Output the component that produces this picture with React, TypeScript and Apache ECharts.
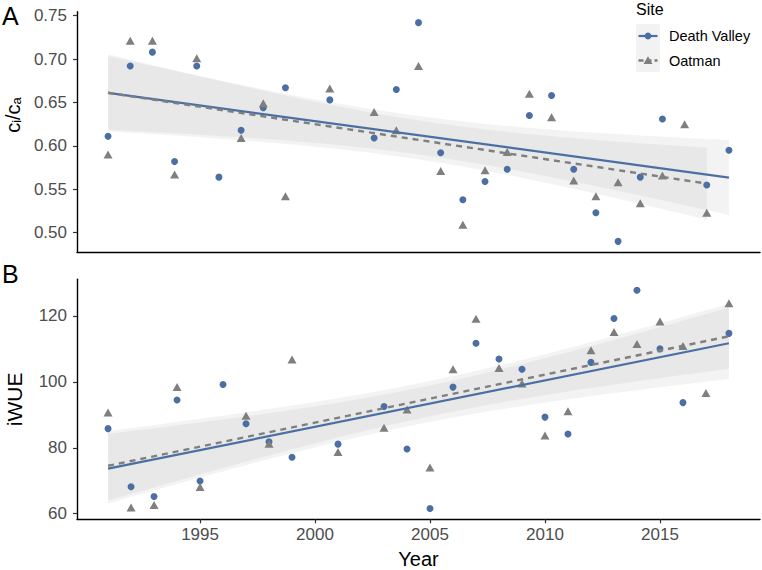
import { useEffect, useRef } from "react";
import * as echarts from "echarts";

// ---- Data ----
// Panel A: ci/ca
const yearsDvA = [1991, 1992, 1993, 1994, 1995, 1996, 1997, 1998, 1999, 2001, 2003, 2004, 2005, 2006, 2007, 2008, 2009, 2010, 2011, 2012, 2013, 2014, 2015, 2016, 2018, 2019];
const ciCaDv = [0.611, 0.692, 0.708, 0.582, 0.692, 0.564, 0.618, 0.644, 0.667, 0.653, 0.609, 0.665, 0.742, 0.592, 0.538, 0.559, 0.573, 0.635, 0.658, 0.573, 0.523, 0.49, 0.564, 0.631, 0.555, 0.595];
const yearsOatA = [1991, 1992, 1993, 1994, 1995, 1997, 1998, 1999, 2001, 2003, 2004, 2005, 2006, 2007, 2008, 2009, 2010, 2011, 2012, 2013, 2014, 2015, 2016, 2017, 2018];
const ciCaOat = [0.59, 0.721, 0.721, 0.567, 0.701, 0.609, 0.649, 0.542, 0.666, 0.639, 0.618, 0.692, 0.571, 0.509, 0.572, 0.593, 0.66, 0.633, 0.56, 0.542, 0.558, 0.534, 0.566, 0.625, 0.523];

// Panel B: iWUE
const yearsDvB = [1991, 1992, 1993, 1994, 1995, 1996, 1997, 1998, 1999, 2001, 2003, 2004, 2005, 2006, 2007, 2008, 2009, 2010, 2011, 2012, 2013, 2014, 2015, 2016, 2018];
const iwueDv = [85.8, 68.2, 65.2, 94.5, 69.9, 99.2, 87.3, 81.8, 77.1, 81.1, 92.5, 79.6, 61.6, 98.4, 111.7, 106.9, 103.8, 89.3, 84.2, 105.9, 119.2, 127.8, 110.0, 93.7, 114.7];
const yearsOatB = [1991, 1992, 1993, 1994, 1995, 1997, 1998, 1999, 2001, 2003, 2004, 2005, 2006, 2007, 2008, 2009, 2010, 2011, 2012, 2013, 2014, 2015, 2016, 2017, 2018];
const iwueOat = [90.7, 61.9, 62.6, 98.4, 68.1, 89.7, 81.2, 106.8, 78.7, 86.1, 91.6, 74.0, 103.8, 119.1, 104.2, 99.5, 83.7, 91.1, 109.6, 115.1, 111.5, 118.3, 110.9, 96.6, 123.8];

const sites = ["Death Valley", "Oatman"];
const yTicksA = [0.5, 0.55, 0.6, 0.65, 0.7, 0.75];
const yTicksB = [60, 80, 100, 120];
const xTicks = [1995, 2000, 2005, 2010, 2015];

// ---- Styling ----
const BLUE = "#4b6fa3";
const GREY = "#7f7f7f";
const BAND = "rgba(153,153,153,0.12)";
const FONT = "Liberation Sans, Arial, Helvetica, sans-serif";

function t975(df: number) {
  const z = 1.959964;
  return (
    z +
    (z ** 3 + z) / (4 * df) +
    (5 * z ** 5 + 16 * z ** 3 + 3 * z) / (96 * df * df) +
    (3 * z ** 7 + 19 * z ** 5 + 17 * z ** 3 - 15 * z) / (384 * df ** 3)
  );
}

function fit(xs: number[], ys: number[], steps = 80) {
  const n = xs.length;
  const mx = xs.reduce((a, b) => a + b, 0) / n;
  const my = ys.reduce((a, b) => a + b, 0) / n;
  let sxx = 0, sxy = 0;
  for (let i = 0; i < n; i++) {
    sxx += (xs[i] - mx) ** 2;
    sxy += (xs[i] - mx) * (ys[i] - my);
  }
  const b = sxy / sxx;
  const a = my - b * mx;
  let sse = 0;
  for (let i = 0; i < n; i++) sse += (ys[i] - (a + b * xs[i])) ** 2;
  const s2 = sse / (n - 2);
  const t = t975(n - 2);
  const x0 = Math.min(...xs), x1 = Math.max(...xs);
  const band: number[][] = [];
  for (let i = 0; i <= steps; i++) {
    const x = x0 + ((x1 - x0) * i) / steps;
    const yh = a + b * x;
    const se = Math.sqrt(s2 * (1 / n + (x - mx) ** 2 / sxx));
    band.push([x, yh - t * se, yh + t * se]);
  }
  return { line: [[x0, a + b * x0], [x1, a + b * x1]], band };
}

const zip = (xs: number[], ys: number[]) => xs.map((x, i) => [x, ys[i]]);

function bandSeries(band: number[][], gi: number) {
  return {
    type: "custom",
    xAxisIndex: gi,
    yAxisIndex: gi,
    silent: true,
    z: 1,
    data: band,
    encode: { x: 0, y: [1, 2] },
    renderItem: (params: any, api: any) => {
      if (params.dataIndex !== 0) return null;
      const pts: number[][] = [];
      for (let i = 0; i < band.length; i++) pts.push(api.coord([band[i][0], band[i][2]]));
      for (let i = band.length - 1; i >= 0; i--) pts.push(api.coord([band[i][0], band[i][1]]));
      return { type: "polygon", shape: { points: pts }, style: { fill: BAND, stroke: null } };
    },
  };
}

function pointSeries(name: string, data: number[][], gi: number, isDv: boolean) {
  return {
    type: "scatter",
    name,
    xAxisIndex: gi,
    yAxisIndex: gi,
    data,
    z: 3,
    symbol: isDv ? "circle" : "triangle",
    symbolSize: isDv ? 7 : [9, 8],
    itemStyle: { color: isDv ? BLUE : GREY, opacity: 1 },
  };
}

function lineSeries(name: string, data: number[][], gi: number, isDv: boolean) {
  return {
    type: "line",
    name,
    xAxisIndex: gi,
    yAxisIndex: gi,
    data,
    z: 4,
    showSymbol: false,
    symbol: "none",
    lineStyle: isDv
      ? { color: BLUE, width: 2.2, type: "solid" }
      : { color: GREY, width: 2.4, type: [6, 5] },
  };
}

export default function App() {
  const ref = useRef<HTMLDivElement>(null);
  useEffect(() => {
    if (!ref.current) return;
    const chart = echarts.init(ref.current, null, { renderer: "svg" });
    const fDvA = fit(yearsDvA, ciCaDv);
    const fOatA = fit(yearsOatA, ciCaOat);
    const fDvB = fit(yearsDvB, iwueDv);
    const fOatB = fit(yearsOatB, iwueOat);

    const axisLine = { show: true, lineStyle: { color: "#000", width: 1.4 } };
    const tick = (vals: number[]) => ({
      show: true,
      length: 4,
      customValues: vals,
      lineStyle: { color: "#333", width: 1.2 },
    });
    const label = (vals: number[], fmt: (v: number) => string, margin: number) => ({
      show: true,
      customValues: vals,
      formatter: fmt,
      color: "#4d4d4d",
      fontSize: 17,
      fontFamily: FONT,
      margin,
    });

    chart.setOption({
      animation: false,
      backgroundColor: "#fff",
      textStyle: { fontFamily: FONT },
      grid: [
        { left: 77, right: 2, top: 11.7, height: 240.6, containLabel: false, outerBoundsMode: "none" },
        { left: 77, right: 2, top: 279.3, height: 240, containLabel: false, outerBoundsMode: "none" },
      ],
      xAxis: [
        {
          type: "value",
          gridIndex: 0,
          min: 1989.6,
          max: 2020.4,
          axisLine,
          axisTick: { show: false },
          axisLabel: { show: false },
          splitLine: { show: false },
        },
        {
          type: "value",
          gridIndex: 1,
          min: 1989.65,
          max: 2019.35,
          axisLine,
          axisTick: tick(xTicks),
          axisLabel: label(xTicks, (v: number) => String(v), 7),
          splitLine: { show: false },
          name: "Year",
          nameLocation: "middle",
          nameGap: 31,
          nameTextStyle: { fontSize: 20, lineHeight: 18, color: "#000", fontFamily: FONT },
        },
      ],
      yAxis: [
        {
          type: "value",
          gridIndex: 0,
          min: 0.4774,
          max: 0.7546,
          axisLine,
          axisTick: tick(yTicksA),
          axisLabel: label(yTicksA, (v: number) => v.toFixed(2), 10),
          splitLine: { show: false },
          name: "{m|c}{s|i}{m|/c}{s|a}",
          nameLocation: "middle",
          nameGap: 50,
          nameRotate: 90,
          nameTextStyle: {
            color: "#000",
            fontFamily: FONT,
            padding: [0, 0, 0, 34],
            rich: {
              m: { fontSize: 20, fontFamily: FONT, color: "#000", verticalAlign: "bottom", lineHeight: 24 },
              s: { fontSize: 13, fontFamily: FONT, color: "#000", verticalAlign: "bottom", lineHeight: 18 },
            },
          },
        },
        {
          type: "value",
          gridIndex: 1,
          min: 58.3,
          max: 131.1,
          axisLine,
          axisTick: tick(yTicksB),
          axisLabel: label(yTicksB, (v: number) => String(v), 10),
          splitLine: { show: false },
          name: "iWUE",
          nameLocation: "middle",
          nameGap: 52,
          nameRotate: 90,
          nameTextStyle: { fontSize: 21, color: "#000", fontFamily: FONT },
        },
      ],
      series: [
        bandSeries(fDvA.band, 0),
        bandSeries(fOatA.band, 0),
        bandSeries(fDvB.band, 1),
        bandSeries(fOatB.band, 1),
        pointSeries(sites[0], zip(yearsDvA, ciCaDv), 0, true),
        pointSeries(sites[1], zip(yearsOatA, ciCaOat), 0, false),
        pointSeries(sites[0], zip(yearsDvB, iwueDv), 1, true),
        pointSeries(sites[1], zip(yearsOatB, iwueOat), 1, false),
        lineSeries(sites[0], fDvA.line, 0, true),
        lineSeries(sites[1], fOatA.line, 0, false),
        lineSeries(sites[0], fDvB.line, 1, true),
        lineSeries(sites[1], fOatB.line, 1, false),
      ],
      graphic: [
        { type: "text", left: 2, top: 3, style: { text: "A", fontSize: 25, fill: "#000", fontFamily: FONT } },
        { type: "text", left: 2, top: 261, style: { text: "B", fontSize: 25, fill: "#000", fontFamily: FONT } },
        {
          type: "group",
          left: 636,
          top: 1,
          children: [
            { type: "text", x: 0, y: 0, style: { text: "Site", fontSize: 16, fill: "#000", fontFamily: FONT } },
            { type: "rect", shape: { x: 0, y: 23, width: 24, height: 24 }, style: { fill: "#f2f2f2" } },
            { type: "rect", shape: { x: 0, y: 47, width: 24, height: 24 }, style: { fill: "#f2f2f2" } },
            { type: "line", shape: { x1: 2.5, y1: 35, x2: 21.5, y2: 35 }, style: { stroke: BLUE, lineWidth: 2.2 } },
            { type: "circle", shape: { cx: 12, cy: 35, r: 3.4 }, style: { fill: BLUE } },
            { type: "line", shape: { x1: 2.5, y1: 59.5, x2: 21.5, y2: 59.5 }, style: { stroke: GREY, lineWidth: 2.4, lineDash: [5, 3] } },
            { type: "polygon", shape: { points: [[12, 55.2], [16.5, 63], [7.5, 63]] }, style: { fill: GREY } },
            { type: "text", x: 33, y: 35, style: { text: sites[0], fontSize: 14.5, fill: "#000", fontFamily: FONT, verticalAlign: "middle" } },
            { type: "text", x: 33, y: 59.5, style: { text: sites[1], fontSize: 14.5, fill: "#000", fontFamily: FONT, verticalAlign: "middle" } },
          ],
        },
      ],
    });
    return () => chart.dispose();
  }, []);
  return <div ref={ref} style={{ position: "fixed", left: 0, top: 0, width: 762, height: 570 }} />;
}
